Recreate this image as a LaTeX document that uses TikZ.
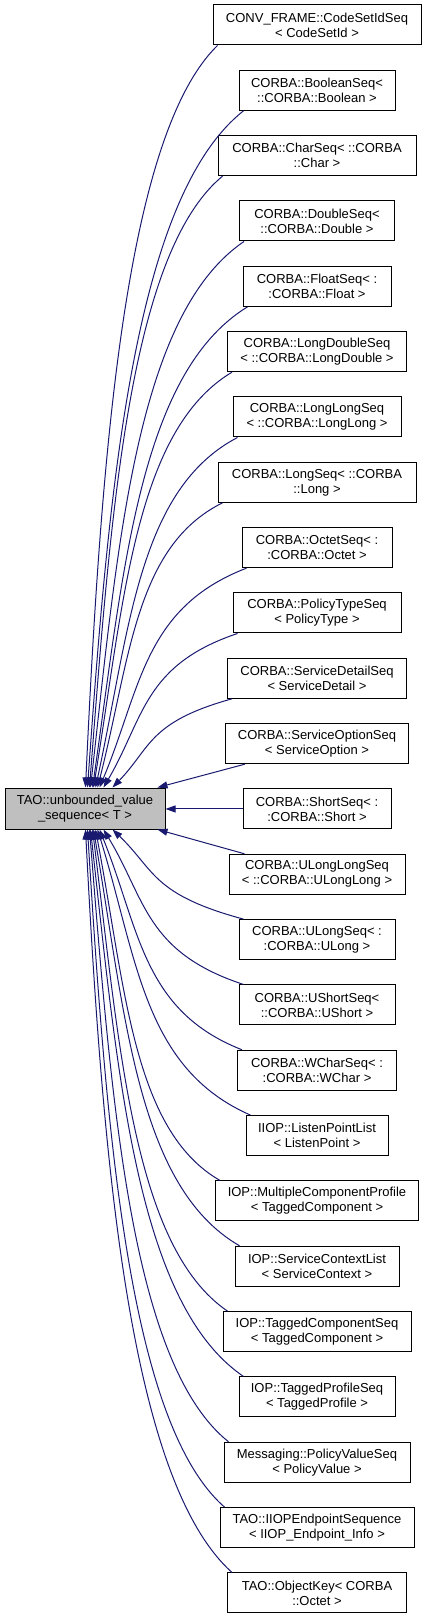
\documentclass[tikz,border=0pt]{standalone}
\usepackage{fontspec}
\setmainfont{Liberation Sans}
\usepackage{tikz}
\usetikzlibrary{arrows.meta}
\usetikzlibrary{calc}
\usetikzlibrary{positioning}
\definecolor{edgeblue}{HTML}{191970}
\definecolor{basegray}{HTML}{BFBFBF}
\newcommand\colx{317}
\newcommand\rowgap{65.33}
\newcommand\linewd{1pt}
\tikzstyle{cls}     = [draw, line width=\linewd, align=center, inner xsep=3pt,
                       minimum height=40pt, font=\fontsize{13}{15}\selectfont]
\tikzstyle{base}    = [cls, fill=basegray, minimum height=41pt]
\tikzstyle{inherit} = [draw=edgeblue, line width=\linewd,
                       -{Triangle[length=10pt,width=7pt]}]
% curved edge: #1 start on the derived class, #2 end on the base, #3 = 1 above / -1 below
\newcommand\spline[3]{%
  \draw[inherit] let \p1=(#1), \p2=(#2), \n1={\x1-\x2}, \n2={abs(\y1-\y2)} in
    (\p1) .. controls ({\x1-0.7*\n1},{\y1-(#3)*(0.1*\n2+0.12*\n1)})
      and ({\x2+0.1*\n1+0.25*\n1*(1-\n2/800)},{\y2+(#3)*0.45*\n2}) .. (\p2);}
\newcommand\upedge[2]{\spline{[xshift=5pt]#1.south west}{[xshift=#2pt]base.north west}{1}}
\newcommand\downedge[2]{\spline{[xshift=5pt]#1.north west}{[xshift=#2pt]base.south west}{-1}}
\begin{document}
\begin{tikzpicture}[x=1pt,y=1pt]
  \useasboundingbox (0,0) rectangle (427,-1619);
  \node[base, minimum width=160pt] (base) at (85,-808.5)
    {TAO::unbounded\_value\\\_sequence< T >};
  % derived classes
  \node[cls, minimum width=208pt] (codesetid) at (\colx,{-25-0*\rowgap})
    {CONV\_FRAME::CodeSetIdSeq\\< CodeSetId >};
  \node[cls, minimum width=156pt] (boolean) at (\colx,{-25-1*\rowgap})
    {CORBA::BooleanSeq<\\::CORBA::Boolean >};
  \node[cls, minimum width=198pt] (char) at (\colx,{-25-2*\rowgap})
    {CORBA::CharSeq< ::CORBA\\::Char >};
  \node[cls, minimum width=155pt] (double) at (\colx,{-25-3*\rowgap})
    {CORBA::DoubleSeq<\\::CORBA::Double >};
  \node[cls, minimum width=148pt] (float) at (\colx,{-25-4*\rowgap})
    {CORBA::FloatSeq< :\\:CORBA::Float >};
  \node[cls, minimum width=179pt] (longdouble) at (\colx,{-25-5*\rowgap})
    {CORBA::LongDoubleSeq\\< ::CORBA::LongDouble >};
  \node[cls, minimum width=168pt] (longlong) at (\colx,{-25-6*\rowgap})
    {CORBA::LongLongSeq\\< ::CORBA::LongLong >};
  \node[cls, minimum width=198pt] (long) at (\colx,{-25-7*\rowgap})
    {CORBA::LongSeq< ::CORBA\\::Long >};
  \node[cls, minimum width=150pt] (octet) at (\colx,{-25-8*\rowgap})
    {CORBA::OctetSeq< :\\:CORBA::Octet >};
  \node[cls, minimum width=168pt] (policytype) at (\colx,{-25-9*\rowgap})
    {CORBA::PolicyTypeSeq\\< PolicyType >};
  \node[cls, minimum width=179pt] (servicedetail) at (\colx,{-25-10*\rowgap})
    {CORBA::ServiceDetailSeq\\< ServiceDetail >};
  \node[cls, minimum width=183pt] (serviceoption) at (\colx,{-25-11*\rowgap})
    {CORBA::ServiceOptionSeq\\< ServiceOption >};
  \node[cls, minimum width=148pt] (short) at (\colx,{-25-12*\rowgap})
    {CORBA::ShortSeq< :\\:CORBA::Short >};
  \node[cls, minimum width=176pt] (ulonglong) at (\colx,{-25-13*\rowgap})
    {CORBA::ULongLongSeq\\< ::CORBA::ULongLong >};
  \node[cls, minimum width=156pt] (ulong) at (\colx,{-25-14*\rowgap})
    {CORBA::ULongSeq< :\\:CORBA::ULong >};
  \node[cls, minimum width=156pt] (ushort) at (\colx,{-25-15*\rowgap})
    {CORBA::UShortSeq<\\::CORBA::UShort >};
  \node[cls, minimum width=159pt] (wchar) at (\colx,{-25-16*\rowgap})
    {CORBA::WCharSeq< :\\:CORBA::WChar >};
  \node[cls, minimum width=142pt] (listenpoint) at (\colx,{-25-17*\rowgap})
    {IIOP::ListenPointList\\< ListenPoint >};
  \node[cls, minimum width=203pt] (multiplecomp) at (\colx,{-25-18*\rowgap})
    {IOP::MultipleComponentProfile\\< TaggedComponent >};
  \node[cls, minimum width=164pt] (servicecontext) at (\colx,{-25-19*\rowgap})
    {IOP::ServiceContextList\\< ServiceContext >};
  \node[cls, minimum width=188pt] (taggedcomp) at (\colx,{-25-20*\rowgap})
    {IOP::TaggedComponentSeq\\< TaggedComponent >};
  \node[cls, minimum width=156pt] (taggedprofile) at (\colx,{-25-21*\rowgap})
    {IOP::TaggedProfileSeq\\< TaggedProfile >};
  \node[cls, minimum width=186pt] (policyvalue) at (\colx,{-25-22*\rowgap})
    {Messaging::PolicyValueSeq\\< PolicyValue >};
  \node[cls, minimum width=194pt] (iiopendpoint) at (\colx,{-25-23*\rowgap})
    {TAO::IIOPEndpointSequence\\< IIOP\_Endpoint\_Info >};
  \node[cls, minimum width=179pt] (objectkey) at (\colx,{-25-24*\rowgap})
    {TAO::ObjectKey< CORBA\\::Octet >};
  % edges from above
  \upedge{codesetid}{81}
  \upedge{boolean}{83}
  \upedge{char}{85}
  \upedge{double}{86}
  \upedge{float}{88}
  \upedge{longdouble}{89}
  \upedge{longlong}{91}
  \upedge{long}{93}
  \upedge{octet}{95}
  \upedge{policytype}{99}
  \upedge{servicedetail}{108}
  % nearly straight edges
  \draw[inherit] ([xshift=20pt]serviceoption.south west) -- ([xshift=-8pt]base.north east);
  \draw[inherit] (short.west) -- (short.west -| base.east);
  \draw[inherit] ([xshift=16pt]ulonglong.north west) -- ([xshift=-8pt]base.south east);
  % edges from below
  \downedge{ulong}{108}
  \downedge{ushort}{99}
  \downedge{wchar}{95}
  \downedge{listenpoint}{93}
  \downedge{multiplecomp}{91}
  \downedge{servicecontext}{89}
  \downedge{taggedcomp}{88}
  \downedge{taggedprofile}{86}
  \downedge{policyvalue}{85}
  \downedge{iiopendpoint}{83}
  \downedge{objectkey}{81}
\end{tikzpicture}
\end{document}
